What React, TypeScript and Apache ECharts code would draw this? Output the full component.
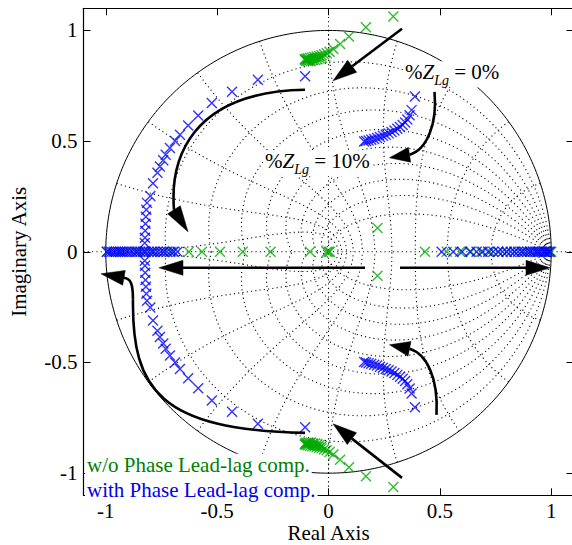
import { useEffect, useRef } from "react";
import * as echarts from "echarts";

const FONT = "'Liberation Serif', 'Times New Roman', serif";

// ---- axes ----
const AXIS_MIN = -1.1;
const AXIS_MAX = 1.1;
const X_TICKS = [-1, -0.5, 0, 0.5, 1];
const Y_TICKS = [-1, -0.5, 0, 0.5, 1];
const X_NAME = "Real Axis";
const Y_NAME = "Imaginary Axis";

// ---- series ----
const SERIES_NAMES = ["w/o Phase Lead-lag comp.", "with Phase Lead-lag comp."];

// w/o compensation: real poles and upper-half complex poles (conjugates implied)
const GREEN_REAL = [
  -0.995, -0.935, -0.86, -0.824, -0.79, -0.74, -0.7, -0.627, -0.568, -0.487, -0.385, -0.26,
  -0.083, -0.008, 0.0, 0.006, 0.433, 0.531, 0.59, 0.64, 0.685, 0.725, 0.763, 0.8, 0.835,
  0.87, 0.905, 0.94, 0.97, 1.0,
];
const GREEN_UPPER = [
  [0.291, 1.063], [0.168, 1.014], [0.092, 0.973], [0.052, 0.939], [0.022, 0.916],
  [0.005, 0.904], [-0.008, 0.897], [-0.02, 0.892], [-0.031, 0.888], [-0.042, 0.885],
  [-0.053, 0.882], [-0.063, 0.88], [-0.073, 0.878], [-0.083, 0.876], [-0.092, 0.874],
  [-0.1, 0.872], [-0.107, 0.87], [-0.1, 0.863], [-0.092, 0.862], [-0.085, 0.864],
  [-0.078, 0.862], [-0.07, 0.867], [-0.06, 0.866], [-0.05, 0.87], [-0.04, 0.873],
  [-0.03, 0.877], [-0.104, 0.866], [-0.095, 0.868], [0.22, 0.108],
];

// with compensation
const BLUE_REAL = [
  -0.995, -0.985, -0.975, -0.965, -0.955, -0.945, -0.935, -0.925, -0.915, -0.905, -0.893,
  -0.881, -0.869, -0.857, -0.845, -0.833, -0.821, -0.808, -0.795, -0.782, -0.768, -0.754,
  -0.74, -0.725, -0.71, -0.694, -0.678,
  0.508, 0.56, 0.6, 0.635, 0.665, 0.692, 0.717, 0.74, 0.762, 0.782, 0.8, 0.818, 0.835,
  0.851, 0.866, 0.88, 0.893, 0.905, 0.917, 0.928, 0.938, 0.948, 0.957, 0.966, 0.974,
  0.982, 0.989, 0.995,
];
const BLUE_UPPER = [
  [-0.105, 0.793], [-0.317, 0.777], [-0.433, 0.723], [-0.524, 0.672], [-0.585, 0.616],
  [-0.63, 0.571], [-0.667, 0.529], [-0.689, 0.5], [-0.712, 0.469], [-0.731, 0.438],
  [-0.742, 0.414], [-0.757, 0.385], [-0.768, 0.357], [-0.788, 0.31], [-0.8, 0.252],
  [-0.815, 0.221], [-0.818, 0.19], [-0.82, 0.158], [-0.822, 0.127], [-0.823, 0.095],
  [-0.824, 0.063], [-0.825, 0.04],
  [0.388, 0.702], [0.373, 0.64], [0.364, 0.617], [0.354, 0.598], [0.344, 0.584],
  [0.333, 0.573], [0.321, 0.564], [0.309, 0.556], [0.296, 0.548], [0.283, 0.541],
  [0.27, 0.535], [0.257, 0.529], [0.244, 0.524], [0.231, 0.519], [0.218, 0.514],
  [0.205, 0.51], [0.192, 0.506], [0.18, 0.503], [0.169, 0.5], [0.16, 0.498],
];

// z-plane grid (damping ratios and natural frequencies as fraction of pi/T)
const ZETA_LINES = [0.1, 0.2, 0.3, 0.4, 0.5, 0.6, 0.7, 0.8, 0.9];
const WN_LINES = [0.1, 0.2, 0.3, 0.4, 0.5, 0.6, 0.7, 0.8, 0.9, 1.0];

// ---- annotations (data coordinates) ----
const ARROWS = [
  { kind: "straight", from: [0.33, 1.0077], tip: [0.0202, 0.7727] },
  { kind: "straight", from: [0.33, -1.0212], tip: [0.0202, -0.7772] },
  { kind: "straight", from: [0.1639, -0.0723], tip: [-0.7611, -0.0723] },
  { kind: "straight", from: [0.3211, -0.0723], tip: [0.9946, -0.0723] },
  {
    kind: "curve",
    segs: [[[-0.1055, 0.732], [-0.6218, 0.723], [-0.7118, 0.4157], [-0.6937, 0.1898]]],
    tip: [-0.6308, 0.0904],
  },
  {
    kind: "curve",
    segs: [
      [[-0.1055, -0.8179], [-0.7566, -0.8043], [-0.8824, -0.6236], [-0.8779, -0.2169]],
      [[-0.8779, -0.2169], [-0.8779, -0.1446], [-0.8869, -0.122], [-0.9183, -0.1175]],
    ],
    tip: [-1.0216, -0.0994],
  },
  {
    kind: "curve",
    segs: [[[0.4759, 0.7228], [0.4894, 0.5737], [0.4401, 0.4609], [0.3637, 0.4383]]],
    tip: [0.2739, 0.4247],
  },
  {
    kind: "curve",
    segs: [[[0.4849, -0.7364], [0.4939, -0.5693], [0.4401, -0.4609], [0.3637, -0.4383]]],
    tip: [0.2739, -0.4202],
  },
];

const ZLG_LABELS = [
  { value: "0%", at: [0.3345, 0.8016] },
  { value: "10%", at: [-0.2941, 0.3995] },
];
const LEGEND_POS = [
  [-1.0934, -0.9639],
  [-1.0934, -1.0741],
];

const GREEN = "#00aa00";
const BLUE = "#0000ff";
const LEGEND_COLORS = ["#007f00", "#0000ee"];

function poles(real: number[], upper: number[][]) {
  return [
    ...real.map((x) => [x, 0]),
    ...upper.map(([x, y]) => [x, y]),
    ...upper.map(([x, y]) => [x, -y]),
  ];
}

function gridCurves() {
  const curves: number[][][] = [];
  ZETA_LINES.forEach((z) => {
    [1, -1].forEach((s) => {
      const pts: number[][] = [];
      for (let i = 0; i <= 120; i++) {
        const th = (Math.PI * i) / 120;
        const r = Math.exp((-z * th) / Math.sqrt(1 - z * z));
        pts.push([r * Math.cos(th), s * r * Math.sin(th)]);
      }
      curves.push(pts);
    });
  });
  WN_LINES.forEach((w) => {
    [1, -1].forEach((s) => {
      const pts: number[][] = [];
      for (let i = 0; i <= 60; i++) {
        const t = ((Math.PI / 2) * i) / 60;
        const zeta = Math.sin(t);
        const r = Math.exp(-zeta * w * Math.PI);
        const th = w * Math.PI * Math.cos(t);
        pts.push([r * Math.cos(th), s * r * Math.sin(th)]);
      }
      curves.push(pts);
    });
  });
  return curves;
}

function unitCircle() {
  const pts: number[][] = [];
  for (let i = 0; i <= 360; i++) {
    const a = (Math.PI * 2 * i) / 360;
    pts.push([Math.cos(a), Math.sin(a)]);
  }
  return pts;
}

const HEAD_L = 24;
const HEAD_W = 7.5;

function head(base: number[], tip: number[]) {
  const dx = tip[0] - base[0];
  const dy = tip[1] - base[1];
  const len = Math.hypot(dx, dy) || 1;
  const nx = -dy / len;
  const ny = dx / len;
  return {
    type: "polygon",
    shape: {
      points: [
        [tip[0], tip[1]],
        [base[0] + nx * HEAD_W, base[1] + ny * HEAD_W],
        [base[0] - nx * HEAD_W, base[1] - ny * HEAD_W],
      ],
    },
    style: { fill: "#000", stroke: "#000", lineWidth: 0.5 },
  };
}

export default function App() {
  const ref = useRef<HTMLDivElement>(null);
  useEffect(() => {
    if (!ref.current) return;
    const chart = echarts.init(ref.current, undefined, { renderer: "svg" });

    const dotted = { color: "#000", width: 1.1, type: [1.1, 3.2] as any };

    const axisCommon = {
      type: "value" as const,
      min: AXIS_MIN,
      max: AXIS_MAX,
      splitLine: { show: false },
      axisLine: { onZero: false, lineStyle: { color: "#000", width: 1.2 } },
    };

    const series: any[] = [];
    gridCurves().forEach((d) =>
      series.push({
        type: "line",
        data: d,
        symbol: "none",
        silent: true,
        lineStyle: dotted,
        z: 1,
      })
    );
    series.push({
      type: "line",
      data: [[AXIS_MIN, 0], [AXIS_MAX, 0]],
      symbol: "none",
      silent: true,
      lineStyle: dotted,
      z: 1,
    });
    series.push({
      type: "line",
      data: [[0, AXIS_MIN], [0, AXIS_MAX]],
      symbol: "none",
      silent: true,
      lineStyle: dotted,
      z: 1,
    });
    series.push({
      type: "line",
      data: unitCircle(),
      symbol: "none",
      silent: true,
      lineStyle: { color: "#000", width: 1 },
      z: 1,
    });

    // labels with white backgrounds
    series.push({
      type: "custom",
      silent: true,
      z: 4,
      data: [...ZLG_LABELS.map((_, i) => [i, 0]), ...LEGEND_POS.map((_, i) => [i + 2, 0])],
      encode: { x: 0, y: 1 },
      renderItem: (params: any, api: any) => {
        const i = params.dataIndex;
        if (i < ZLG_LABELS.length) {
          const L = ZLG_LABELS[i];
          const p = api.coord(L.at);
          return {
            type: "text",
            x: p[0],
            y: p[1],
            style: {
              text: `{n|%}{z|Z}{s|Lg}{n| = ${L.value}}`,
              align: "left",
              verticalAlign: "middle",
              backgroundColor: "#fff",
              padding: [0, 2],
              rich: {
                n: { fontSize: 21, fontFamily: FONT, lineHeight: 26, verticalAlign: "top", fill: "#000" },
                z: { fontSize: 21, fontFamily: FONT, fontStyle: "italic", lineHeight: 26, verticalAlign: "top", fill: "#000" },
                s: { fontSize: 14, fontFamily: FONT, fontStyle: "italic", lineHeight: 14, verticalAlign: "bottom", fill: "#000" },
              },
            },
          };
        }
        const k = i - ZLG_LABELS.length;
        const p = api.coord(LEGEND_POS[k]);
        return {
          type: "text",
          x: p[0],
          y: p[1],
          style: {
            text: SERIES_NAMES[k],
            fill: LEGEND_COLORS[k],
            fontSize: 21,
            fontFamily: FONT,
            align: "left",
            verticalAlign: "middle",
            backgroundColor: "#fff",
            padding: [1, 2],
          },
        };
      },
    });

    const xSym = "path://M0,0L10,10M10,0L0,10";
    series.push({
      name: SERIES_NAMES[0],
      type: "scatter",
      data: poles(GREEN_REAL, GREEN_UPPER),
      symbol: xSym,
      symbolSize: 10,
      itemStyle: { color: "transparent", borderColor: GREEN, borderWidth: 1.4 },
      z: 5,
    });
    series.push({
      name: SERIES_NAMES[1],
      type: "scatter",
      data: poles(BLUE_REAL, BLUE_UPPER),
      symbol: xSym,
      symbolSize: 10,
      itemStyle: { color: "transparent", borderColor: BLUE, borderWidth: 1.4 },
      z: 6,
    });

    series.push({
      type: "custom",
      silent: true,
      z: 8,
      data: ARROWS.map((_, i) => [i, 0]),
      encode: { x: 0, y: 1 },
      renderItem: (params: any, api: any) => {
        const a: any = ARROWS[params.dataIndex];
        const children: any[] = [];
        const stroke = { stroke: "#000", lineWidth: 2.6, fill: "none" };
        if (a.kind === "straight") {
          const f = api.coord(a.from);
          const t = api.coord(a.tip);
          const dx = t[0] - f[0];
          const dy = t[1] - f[1];
          const len = Math.hypot(dx, dy);
          const b = [t[0] - (dx / len) * HEAD_L, t[1] - (dy / len) * HEAD_L];
          children.push({
            type: "line",
            shape: { x1: f[0], y1: f[1], x2: b[0], y2: b[1] },
            style: stroke,
          });
          children.push(head(b, t));
        } else {
          a.segs.forEach((s: number[][]) => {
            const p0 = api.coord(s[0]);
            const c1 = api.coord(s[1]);
            const c2 = api.coord(s[2]);
            const p3 = api.coord(s[3]);
            children.push({
              type: "bezierCurve",
              shape: { x1: p0[0], y1: p0[1], cpx1: c1[0], cpy1: c1[1], cpx2: c2[0], cpy2: c2[1], x2: p3[0], y2: p3[1] },
              style: stroke,
            });
          });
          const last = a.segs[a.segs.length - 1][3];
          children.push(head(api.coord(last), api.coord(a.tip)));
        }
        return { type: "group", children };
      },
    });

    chart.setOption({
      animation: false,
      textStyle: { fontFamily: FONT },
      grid: { left: 83.5, top: 8.3, width: 490, height: 487, outerBoundsMode: "none", containLabel: false },
      xAxis: [
        {
          ...axisCommon,
          position: "bottom",
          name: X_NAME,
          nameLocation: "middle",
          nameGap: 29,
          nameMoveOverlap: false,
          nameTextStyle: { fontSize: 21, lineHeight: 18, color: "#000", fontFamily: FONT },
          axisTick: { inside: true, length: 7, customValues: X_TICKS, lineStyle: { color: "#000" } },
          axisLabel: { customValues: X_TICKS, fontSize: 21, lineHeight: 18, color: "#000", fontFamily: FONT, margin: 7 },
        },
        {
          ...axisCommon,
          position: "top",
          axisTick: { inside: true, length: 7, customValues: X_TICKS, lineStyle: { color: "#000" } },
          axisLabel: { show: false },
        },
      ],
      yAxis: [
        {
          ...axisCommon,
          position: "left",
          name: Y_NAME,
          nameLocation: "middle",
          nameGap: 54,
          nameMoveOverlap: false,
          nameTextStyle: { fontSize: 21, color: "#000", fontFamily: FONT },
          axisTick: { inside: true, length: 7, customValues: Y_TICKS, lineStyle: { color: "#000" } },
          axisLabel: { customValues: Y_TICKS, fontSize: 21, color: "#000", fontFamily: FONT, margin: 6 },
        },
        {
          ...axisCommon,
          position: "right",
          axisTick: { inside: true, length: 7, customValues: Y_TICKS, lineStyle: { color: "#000" } },
          axisLabel: { show: false },
        },
      ],
      series,
    });
    return () => chart.dispose();
  }, []);
  return (
    <div
      ref={ref}
      style={{ position: "fixed", left: 0, top: 0, width: 572, height: 545, background: "#fff" }}
    />
  );
}
